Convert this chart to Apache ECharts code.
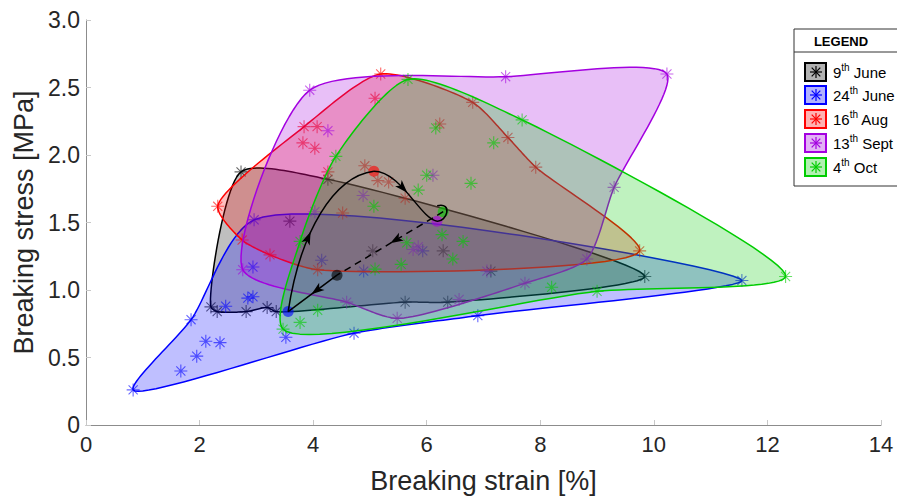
<!DOCTYPE html>
<html><head><meta charset="utf-8">
<script src="https://cdn.jsdelivr.net/npm/echarts@6/dist/echarts.min.js"></script>
<style>html,body{margin:0;padding:0;background:#fff}#c{width:897px;height:499px}</style>
</head><body><div id="c"></div>
<script>
// ---------- data (Breaking strain [%], Breaking stress [MPa]) ----------
const groupNames = ['9th June','24th June','16th Aug','13th Sept','4th Oct'];
const groupSup = [['9','th',' June'],['24','th',' June'],['16','th',' Aug'],['13','th',' Sept'],['4','th',' Oct']];

const june9X  = [2.73,4.26,3.59,2.20,2.31,2.82,3.19,3.35,5.05,6.29,5.62,6.37,7.13,9.84];
const june9Y  = [1.875,1.82,1.51,0.875,0.84,0.84,0.87,0.84,1.29,1.29,0.91,0.91,1.14,1.10];
const june9Boundary = [0,1,13,11,10,7,6,5,4,3];

const june24X = [0.83,1.67,1.95,2.11,2.36,1.85,2.46,2.85,2.94,2.94,2.96,3.52,4.15,4.89,5.93,4.72,6.90,11.55];
const june24Y = [0.26,0.40,0.51,0.62,0.61,0.78,0.88,0.94,0.95,1.17,1.52,0.65,1.22,1.14,1.29,0.68,0.81,1.07];
const june24Boundary = [0,5,10,17,16,15];

const aug16X = [2.32,2.75,3.24,3.84,4.07,3.82,4.03,4.26,5.19,5.09,6.23,6.81,7.43,7.92,4.91,5.14,5.33,5.62,4.52,9.75,4.08];
const aug16Y = [1.62,1.37,1.26,2.21,2.21,2.09,2.05,1.875,2.60,2.42,2.23,2.39,2.13,1.91,1.92,1.81,1.80,1.68,1.57,1.29,1.15];
const aug16Boundary = [0,3,8,11,12,13,19,20,2,1];

const sep13X = [3.94,4.26,7.39,10.23,9.30,8.82,7.06,7.73,6.57,5.48,4.59,5.85,5.76,4.88,6.11,4.03,2.76];
const sep13Y = [2.48,2.18,2.58,2.60,1.76,1.23,1.14,1.05,0.93,0.79,0.91,1.32,1.30,1.70,1.85,1.58,1.15];
const sep13Boundary = [0,16,10,9,7,5,4,3,2];

const oct4X = [5.67,7.68,7.18,6.16,4.40,6.00,6.78,5.85,5.07,6.27,6.64,5.65,5.55,5.09,6.46,3.47,3.77,4.08,9.00,8.20,12.32,3.77];
const oct4Y = [2.56,2.26,2.09,2.20,1.99,1.85,1.79,1.74,1.62,1.41,1.36,1.35,1.19,1.155,1.23,0.71,0.76,0.85,0.99,1.02,1.10,1.36];
const oct4Boundary = [0,1,20,18,15,21,4];

// group mean positions (trajectory), order: 9th June, 24th June, 16th Aug, 13th Sept, 4th Oct
const centroidX = [4.42,3.56,5.07,6.18,6.29];
const centroidY = [1.11,0.84,1.88,1.51,1.58];

const xTicks = [0,2,4,6,8,10,12,14];
const yTicks = [0,0.5,1.0,1.5,2.0,2.5,3.0];

// ---------- styles ----------
const colors = ['#000000','#0000ff','#ff0000','#a300e0','#00cc00'];
const fills  = ['rgba(0,0,0,0.25)','rgba(0,0,255,0.25)','rgba(255,0,0,0.25)','rgba(163,0,224,0.25)','rgba(0,204,0,0.25)'];
const groupsX = [june9X,june24X,aug16X,sep13X,oct4X];
const groupsY = [june9Y,june24Y,aug16Y,sep13Y,oct4Y];
const bounds = [june9Boundary,june24Boundary,aug16Boundary,sep13Boundary,oct4Boundary];
const FONT = 'Liberation Sans, Arial, sans-serif';
const STAR = 'path://M10 0L10 20M0 10L20 10M3 3L17 17M3 17L17 3';
const TENSION = 0.7;

// closed centripetal Catmull-Rom spline through pixel points, sampled to a polygon
function closedSpline(P, steps) {
  const n = P.length, out = [];
  const d = (a, b) => Math.pow(Math.hypot(b[0] - a[0], b[1] - a[1]), 0.5) || 1e-4;
  for (let i = 0; i < n; i++) {
    const p0 = P[(i - 1 + n) % n], p1 = P[i], p2 = P[(i + 1) % n], p3 = P[(i + 2) % n];
    const t01 = d(p0, p1), t12 = d(p1, p2), t23 = d(p2, p3);
    const m1 = [0, 1].map(k => TENSION * t12 * ((p1[k] - p0[k]) / t01 - (p2[k] - p0[k]) / (t01 + t12) + (p2[k] - p1[k]) / t12));
    const m2 = [0, 1].map(k => TENSION * t12 * ((p2[k] - p1[k]) / t12 - (p3[k] - p1[k]) / (t12 + t23) + (p3[k] - p2[k]) / t23));
    const c1 = [p1[0] + m1[0] / 3, p1[1] + m1[1] / 3];
    const c2 = [p2[0] - m2[0] / 3, p2[1] - m2[1] / 3];
    for (let s = 0; s < steps; s++) {
      const t = s / steps, u = 1 - t;
      out.push([u*u*u*p1[0] + 3*u*u*t*c1[0] + 3*u*t*t*c2[0] + t*t*t*p2[0],
                u*u*u*p1[1] + 3*u*u*t*c1[1] + 3*u*t*t*c2[1] + t*t*t*p2[1]]);
    }
  }
  return out;
}

const series = [];
groupNames.forEach((name, g) => {
  series.push({
    type: 'custom', name: name + ' area', coordinateSystem: 'cartesian2d', silent: true, clip: false,
    z: 10 + g * 2,
    data: [[groupsX[g][0], groupsY[g][0]]],
    renderItem(params, api) {
      const pts = bounds[g].map(i => api.coord([groupsX[g][i], groupsY[g][i]]));
      return { type: 'polygon', shape: { points: closedSpline(pts, 24) },
               style: { fill: fills[g], stroke: colors[g], lineWidth: 1.5, lineJoin: 'round' } };
    }
  });
  series.push({
    type: 'scatter', name: name, z: 11 + g * 2, silent: true,
    symbol: STAR, symbolSize: 13,
    data: groupsX[g].map((x, i) => [x, groupsY[g][i]]),
    itemStyle: { color: colors[g], borderColor: colors[g], borderWidth: 1.1, opacity: 0.6 }
  });
});

// trajectory between group means
series.push({
  type: 'custom', name: 'trajectory', coordinateSystem: 'cartesian2d', silent: true, clip: false, z: 40,
  data: [[centroidX[0], centroidY[0]]],
  renderItem(params, api) {
    const P = centroidX.map((x, i) => api.coord([x, centroidY[i]]));
    const [pk, pb, pr, pp, pg] = P;
    const ch = [];
    const bez = (p0, c1, c2, p3, t) => {
      const u = 1 - t;
      const x = u*u*u*p0[0] + 3*u*u*t*c1[0] + 3*u*t*t*c2[0] + t*t*t*p3[0];
      const y = u*u*u*p0[1] + 3*u*u*t*c1[1] + 3*u*t*t*c2[1] + t*t*t*p3[1];
      const dx = 3*u*u*(c1[0]-p0[0]) + 6*u*t*(c2[0]-c1[0]) + 3*t*t*(p3[0]-c2[0]);
      const dy = 3*u*u*(c1[1]-p0[1]) + 6*u*t*(c2[1]-c1[1]) + 3*t*t*(p3[1]-c2[1]);
      return [x, y, dx, dy];
    };
    const seg = (p0, c1, c2, p3, dash, tArrow) => {
      ch.push({ type: 'bezierCurve',
        shape: { x1: p0[0], y1: p0[1], cpx1: c1[0], cpy1: c1[1], cpx2: c2[0], cpy2: c2[1], x2: p3[0], y2: p3[1] },
        style: { stroke: '#000', lineWidth: 1.5, fill: null, lineDash: dash ? [7, 5] : null } });
      if (tArrow != null) {
        const [x, y, dx, dy] = bez(p0, c1, c2, p3, tArrow);
        const l = Math.hypot(dx, dy) || 1, ux = dx / l, uy = dy / l;
        const L = 13, W = 4.5;
        ch.push({ type: 'polygon', shape: { points: [
          [x + ux * L / 2, y + uy * L / 2],
          [x - ux * L / 2 - uy * W, y - uy * L / 2 + ux * W],
          [x - ux * L / 4, y - uy * L / 4],
          [x - ux * L / 2 + uy * W, y - uy * L / 2 - ux * W]] },
          style: { fill: '#000' } });
      }
    };
    const lerp = (a, b, t) => [a[0] + (b[0] - a[0]) * t, a[1] + (b[1] - a[1]) * t];
    P.forEach((p, i) => ch.push({ type: 'circle', shape: { cx: p[0], cy: p[1], r: 5.5 },
      style: { fill: colors[i], opacity: 0.6 } }));
    seg(pk, lerp(pk, pb, 0.33), lerp(pk, pb, 0.66), pb, false, 0.42);
    seg(pb, [pb[0] + 12, pb[1] - 80], [pr[0] - 40, pr[1] + 5], pr, false, 0.35);
    seg(pr, [pr[0] + 27, pr[1]], [pp[0] - 17, pp[1] - 3], pp, false, 0.4);
    seg(pp, [pp[0] + 10, pp[1] + 1], [pg[0] + 10, pg[1] - 10], [pg[0] - 6, pg[1] - 6], false, null);
    seg(pg, lerp(pg, pk, 0.33), lerp(pg, pk, 0.66), pk, true, 0.45);
    return { type: 'group', children: ch };
  }
});

// legend drawn with graphic elements
const graphic = [
  { type: 'rect', shape: { x: 794, y: 29, width: 130, height: 157 }, style: { fill: '#fff', stroke: '#333', lineWidth: 1 }, z: 100 },
  { type: 'line', shape: { x1: 794, y1: 52, x2: 897, y2: 52 }, style: { stroke: '#333', lineWidth: 1 }, z: 101 },
  { type: 'text', x: 841, y: 41, style: { text: 'LEGEND', font: 'bold 13px ' + FONT, fill: '#000', align: 'center', verticalAlign: 'middle' }, z: 101 }
];
const rowY = [72, 95, 119, 143, 167];
groupNames.forEach((name, g) => {
  const cy = rowY[g], cx = 816;
  graphic.push({ type: 'rect', shape: { x: 805, y: cy - 9, width: 21, height: 18 },
    style: { fill: fills[g].replace('0.25', '0.3'), stroke: colors[g], lineWidth: 2 }, z: 101 });
  const r = 6, d = 4.3;
  [[0, -r, 0, r], [-r, 0, r, 0], [-d, -d, d, d], [-d, d, d, -d]].forEach(s => graphic.push({
    type: 'line', shape: { x1: cx + s[0], y1: cy + s[1], x2: cx + s[2], y2: cy + s[3] },
    style: { stroke: colors[g], lineWidth: 1.2 }, z: 102 }));
  const p = groupSup[g];
  graphic.push({ type: 'text', x: 833, y: cy, z: 102, style: {
    text: '{a|' + p[0] + '}{s|' + p[1] + '}{a|' + p[2] + '}',
    verticalAlign: 'middle',
    rich: { a: { font: '15px ' + FONT, fill: '#000', lineHeight: 20, verticalAlign: 'middle' },
            s: { font: '10px ' + FONT, fill: '#000', lineHeight: 12, verticalAlign: 'top' } } } });
});

const chart = echarts.init(document.getElementById('c'), null, { renderer: 'svg' });
chart.setOption({
  animation: false,
  backgroundColor: '#fff',
  grid: { left: 86, right: 16, top: 20, bottom: 71 },
  xAxis: {
    type: 'value', min: xTicks[0], max: xTicks[xTicks.length - 1], interval: 2,
    axisLine: { show: true, lineStyle: { color: '#8c8c8c', width: 1 } },
    axisTick: { show: true, inside: true, length: 5, lineStyle: { color: '#c8c8c8' } },
    splitLine: { show: false },
    axisLabel: { fontSize: 22, color: '#262626', fontFamily: FONT, margin: 8 },
    name: 'Breaking strain [%]', nameLocation: 'middle', nameGap: 42,
    nameTextStyle: { fontSize: 27, color: '#262626', fontFamily: FONT }
  },
  yAxis: {
    type: 'value', min: yTicks[0], max: yTicks[yTicks.length - 1], interval: 0.5,
    axisLine: { show: true, lineStyle: { color: '#8c8c8c', width: 1 } },
    axisTick: { show: true, inside: true, length: 5, lineStyle: { color: '#c8c8c8' } },
    splitLine: { show: false },
    axisLabel: { fontSize: 23, color: '#262626', fontFamily: FONT, margin: 6,
      formatter: v => v === 0 ? '0' : v.toFixed(1) },
    name: 'Breaking stress [MPa]', nameLocation: 'middle', nameGap: 38, nameRotate: 90,
    nameTextStyle: { fontSize: 27, color: '#262626', fontFamily: FONT }
  },
  graphic: graphic,
  series: series
});
</script>
</body></html>
